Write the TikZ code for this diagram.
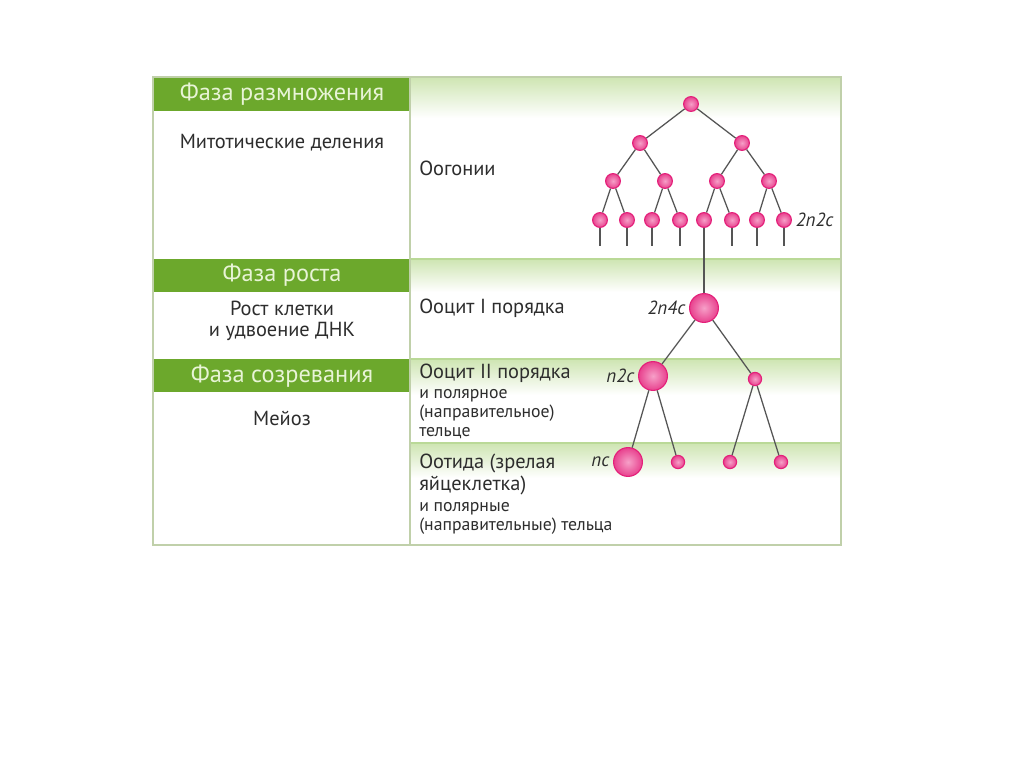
\documentclass[tikz,border=0pt]{standalone}
\usepackage{fontspec}
\setmainfont{PT Sans}
\definecolor{phase}{RGB}{108,168,44}
\definecolor{phasetxt}{RGB}{232,244,214}
\definecolor{rim}{RGB}{192,208,170}
\definecolor{tint}{RGB}{206,229,178}
\definecolor{cellrim}{RGB}{228,32,122}
\definecolor{cellin}{RGB}{246,160,200}
\definecolor{branch}{RGB}{85,85,85}
\definecolor{ink}{RGB}{45,45,45}
\tikzset{
  hdr/.style={font=\fontsize{17.3}{17}\selectfont, text=phasetxt},
  lefttxt/.style={font=\fontsize{14.5}{14.5}\selectfont, align=center, text=ink},
  rowtxt/.style={font=\fontsize{14.5}{15}\selectfont, anchor=west, align=left, text=ink, inner sep=0pt},
  subtxt/.style={font=\fontsize{12.6}{13.4}\selectfont, anchor=north west, align=left, text=ink, inner sep=0pt},
  ploid/.style={font=\itshape\fontsize{13.5}{13}\selectfont, text=ink, inner sep=2.5pt},
  cell/.style={circle, inner sep=0pt, minimum size=0.37cm, draw=cellrim, thick, inner color=cellin, outer color=cellrim!85},
  bigcell/.style={cell, minimum size=0.72cm},
  polar/.style={cell, minimum size=0.33cm},
  twig/.style={draw=branch, line width=0.9pt}
}
\begin{document}
\begin{tikzpicture}[x=0.025cm,y=-0.025cm]
\useasboundingbox (0,0) rectangle (1024,767);
\fill[white] (0,0) rectangle (1024,767);

% right column tints
\shade[top color=tint, bottom color=white] (410,77) rectangle (841,118);
\shade[top color=tint, bottom color=white] (410,259) rectangle (841,292);
\shade[top color=tint, bottom color=white] (410,359) rectangle (841,395);
\shade[top color=tint, bottom color=white] (410,443) rectangle (841,478);
\draw[tint!80!phase, line width=0.8pt] (410,259) -- (841,259);
\draw[tint!80!phase, line width=0.8pt] (410,359) -- (841,359);
\draw[tint!80!phase, line width=0.8pt] (410,443) -- (841,443);

% phase bars
\fill[phase] (153,77) rectangle (410,111);
\fill[phase] (153,259) rectangle (410,292);
\fill[phase] (153,359) rectangle (410,392);

% frame
\draw[rim, line width=1.3pt] (153,77) rectangle (841,545);
\draw[rim, line width=1.3pt] (410,77) -- (410,545);

% left column
\node[hdr] (h1) at (282,94) {Фаза размножения};
\node[hdr] (h2) at (282,275) {Фаза роста};
\node[hdr] (h3) at (282,376) {Фаза созревания};
\node[lefttxt] (t1) at (282,143) {Митотические деления};
\node[lefttxt] (t2) at (282,321) {Рост клетки\\и удвоение ДНК};
\node[lefttxt] (t3) at (282,418) {Мейоз};

% right column
\node[rowtxt] (r1) at (419,168) {Оогонии};
\node[rowtxt] (r2) at (419,308) {Ооцит I порядка};
\node[rowtxt] (r3) at (419,373) {Ооцит II порядка};
\node[subtxt] (r3s) at (419,389) {и полярное\\(направительное)\\тельце};
\node[rowtxt, font=\fontsize{14.5}{15.5}\selectfont, anchor=north west] (r4) at (419,454) {Оотида (зрелая\\яйцеклетка)};
\node[subtxt] (r4s) at (419,502) {и полярные\\(направительные) тельца};

% oogonia tree
\node[cell] (g0) at (691,104) {};
\node[cell] (g1) at (640,143) {};
\node[cell] (g2) at (742,143) {};
\node[cell] (g3) at (613,181) {};
\node[cell] (g4) at (665,181) {};
\node[cell] (g5) at (717,181) {};
\node[cell] (g6) at (769,181) {};
\node[cell] (o1) at (600,220) {};
\node[cell] (o2) at (627,220) {};
\node[cell] (o3) at (652,220) {};
\node[cell] (o4) at (680,220) {};
\node[cell] (o5) at (704,220) {};
\node[cell] (o6) at (732,220) {};
\node[cell] (o7) at (757,220) {};
\node[cell] (o8) at (784,220) {};

\draw[twig] (g0) -- (g1);
\draw[twig] (g0) -- (g2);
\draw[twig] (g1) -- (g3);
\draw[twig] (g1) -- (g4);
\draw[twig] (g2) -- (g5);
\draw[twig] (g2) -- (g6);
\draw[twig] (g3) -- (o1);
\draw[twig] (g3) -- (o2);
\draw[twig] (g4) -- (o3);
\draw[twig] (g4) -- (o4);
\draw[twig] (g5) -- (o5);
\draw[twig] (g5) -- (o6);
\draw[twig] (g6) -- (o7);
\draw[twig] (g6) -- (o8);
\foreach \k/\x in {1/600,2/627,3/652,4/680,6/732,7/757,8/784}{
  \coordinate (e\k) at (\x,246);
  \draw[twig] (o\k) -- (e\k);
}

% oocytes and ootids
\node[bigcell] (c1) at (704,308) {};
\node[bigcell] (c2) at (653,376) {};
\node[polar] (p1) at (755,379) {};
\node[bigcell] (d1) at (628,462) {};
\node[polar] (d2) at (678,462) {};
\node[polar] (d3) at (730,462) {};
\node[polar] (d4) at (781,462) {};

\draw[twig] (o5) -- (c1);
\draw[twig] (c1) -- (c2);
\draw[twig] (c1) -- (p1);
\draw[twig] (c2) -- (d1);
\draw[twig] (c2) -- (d2);
\draw[twig] (p1) -- (d3);
\draw[twig] (p1) -- (d4);

% chromosome sets
\node[ploid, anchor=west] (k1) at (o8.east) {2n2c};
\node[ploid, anchor=east] (k2) at (c1.west) {2n4c};
\node[ploid, anchor=east] (k3) at (c2.west) {n2c};
\node[ploid, anchor=east] (k4) at (d1.west) {nc};
\end{tikzpicture}
\end{document}
